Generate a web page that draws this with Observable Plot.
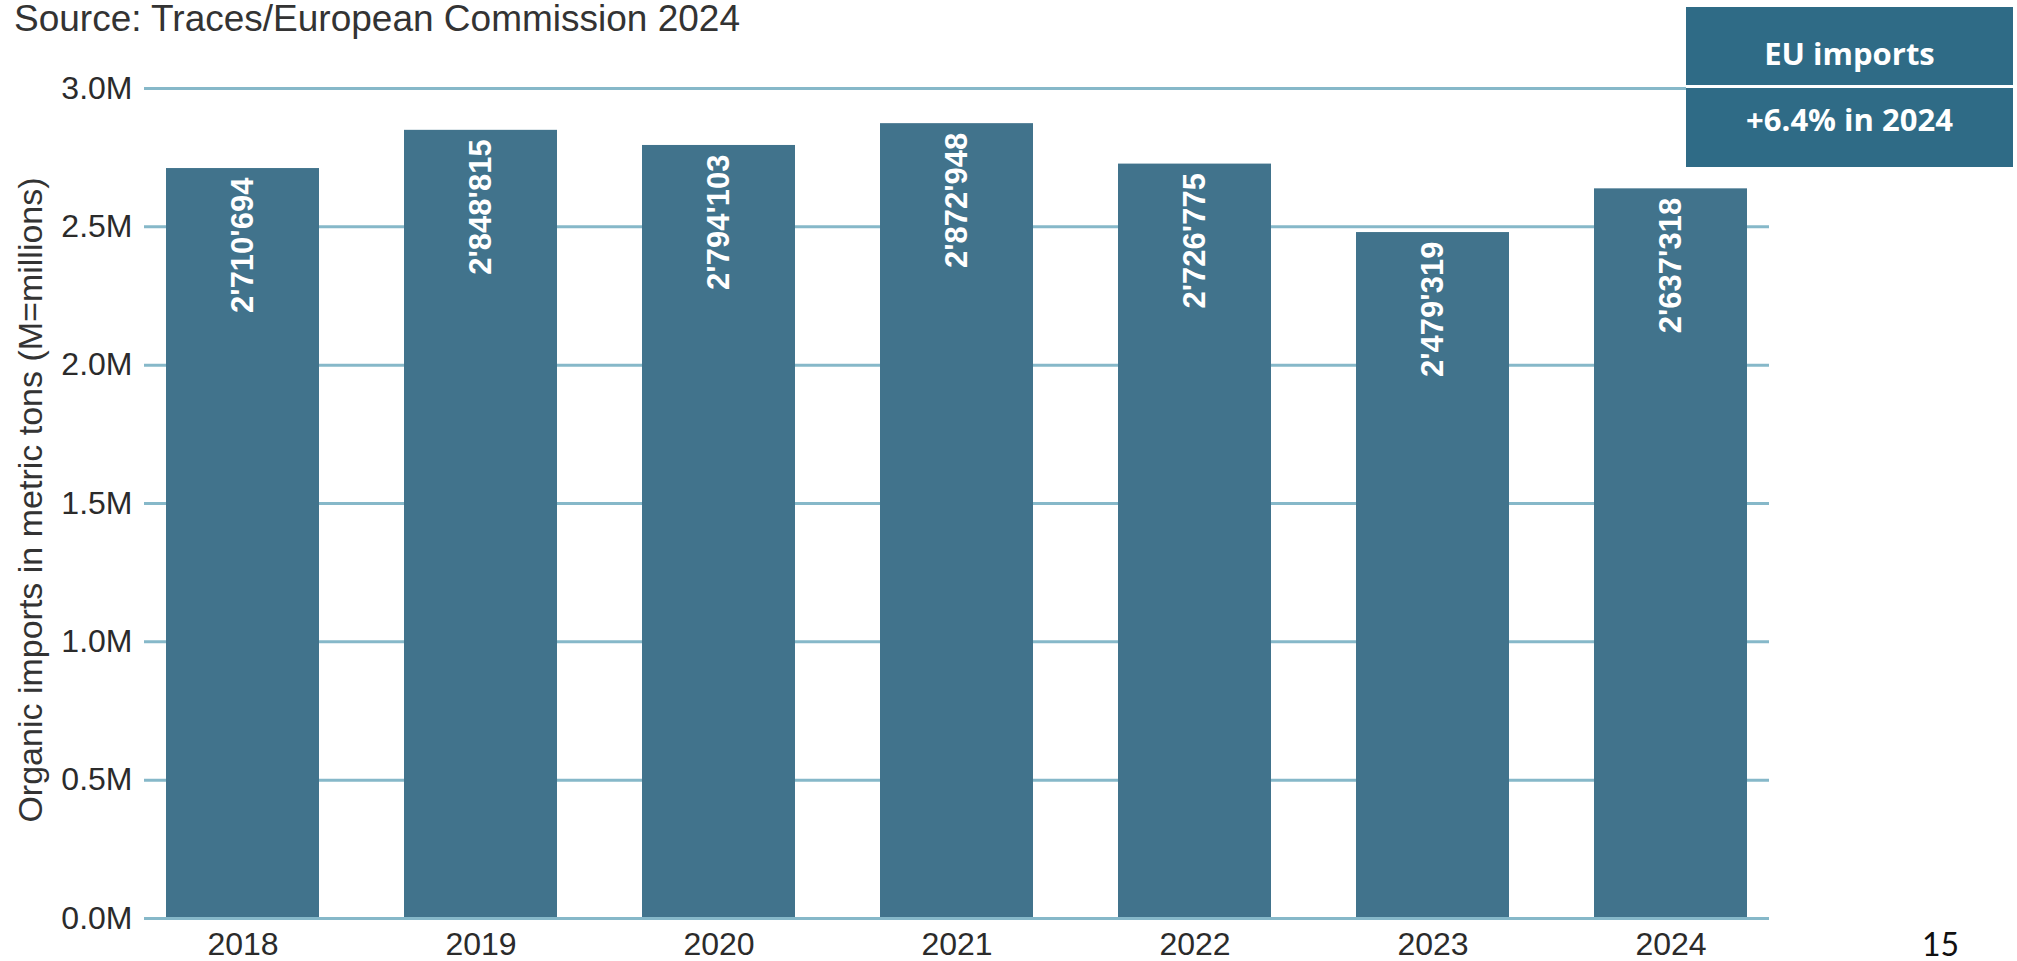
<!DOCTYPE html>
<html>
<head>
<meta charset="utf-8">
<script src="https://cdn.jsdelivr.net/npm/d3@7"></script>
<script src="https://cdn.jsdelivr.net/npm/@observablehq/plot@0.6"></script>
<style>
  html, body { margin: 0; padding: 0; background: #fff; }
  body { width: 2017px; height: 961px; position: relative; overflow: hidden; font-family: "Liberation Sans", Arial, sans-serif; }
  #chart { position: absolute; left: 0; top: 0; }
  #title { position: absolute; left: 14px; top: 0px; font-size: 37px; line-height: 1; color: #333; white-space: nowrap; }
  #ylabel { position: absolute; left: 30px; top: 500px; transform: translate(-50%, -50%) rotate(-90deg); font-size: 34px; line-height: 1; color: #333; white-space: nowrap; }
  #box { position: absolute; left: 1686px; top: 7px; width: 327px; height: 160px; background: #2f6b86; font-family: "Open Sans", Lato, sans-serif; font-weight: 700; color: #fff; }
  #box .divider { position: absolute; left: 0; top: 78px; width: 100%; height: 3px; background: #fff; }
  #box .t { position: absolute; left: 0; width: 100%; text-align: center; font-size: 31px; line-height: 1; white-space: nowrap; }
  #page { position: absolute; left: 1922px; top: 928px; font-family: Lato, sans-serif; font-size: 32px; line-height: 1; color: #111; }
</style>
</head>
<body>
<div id="chart"></div>
<div id="title"></div>
<div id="ylabel"></div>
<div id="box"><div class="t" id="boxTop"></div><div class="divider"></div><div class="t" id="boxBottom"></div></div>
<div id="page"></div>
<script>
// ---- Data ----
const years = ["2018", "2019", "2020", "2021", "2022", "2023", "2024"];
const tons = [2710694, 2848815, 2794103, 2872948, 2726775, 2479319, 2637318];
const barLabels = ["2'710'694", "2'848'815", "2'794'103", "2'872'948", "2'726'775", "2'479'319", "2'637'318"];
const yTicks = [0, 500000, 1000000, 1500000, 2000000, 2500000, 3000000];
const yTickLabels = ["0.0M", "0.5M", "1.0M", "1.5M", "2.0M", "2.5M", "3.0M"];
const titleText = "Source: Traces/European Commission 2024";
const yAxisTitle = "Organic imports in metric tons (M=millions)";
const boxTitle = "EU imports";
const boxValue = "+6.4% in 2024";
const pageNumber = "15";

const data = years.map((y, i) => ({year: y, tons: tons[i], label: barLabels[i]}));

document.getElementById("title").textContent = titleText;
document.getElementById("ylabel").textContent = yAxisTitle;
document.getElementById("boxTop").textContent = boxTitle;
document.getElementById("boxBottom").textContent = boxValue;
document.getElementById("page").textContent = pageNumber;
document.getElementById("boxTop").style.top = "31px";
document.getElementById("boxBottom").style.top = "97px";

const gridColor = "#86b8c9";
const barColor = "#41738c";

const chart = Plot.plot({
  width: 2017,
  height: 961,
  marginLeft: 144,
  marginRight: 248,
  marginTop: 88,
  marginBottom: 43,
  style: {fontFamily: "'Liberation Sans', Arial, sans-serif", fontSize: "32px", color: "#2b2b2b", background: "transparent", overflow: "visible"},
  x: {domain: years, paddingInner: 0.3575, paddingOuter: 0.0816},
  y: {domain: [0, 3000000]},
  marks: [
    Plot.ruleY(yTicks.filter(d => d > 0), {stroke: gridColor, strokeWidth: 3}),
    Plot.barY(data, {x: "year", y: "tons", fill: barColor}),
    Plot.ruleY([0], {stroke: gridColor, strokeWidth: 3}),
    Plot.text(data, {x: "year", y: "tons", text: "label", rotate: -90, textAnchor: "end", lineAnchor: "middle", dy: 9, fill: "white", fontWeight: "bold", fontSize: 31}),
    Plot.axisX({tickSize: 0, tickPadding: 14, fontSize: 32, label: null}),
    Plot.axisY({ticks: yTicks, tickFormat: d => yTickLabels[yTicks.indexOf(d)], tickSize: 0, tickPadding: 12, fontSize: 32, label: null})
  ]
});
document.getElementById("chart").appendChild(chart);
</script>
</body>
</html>
